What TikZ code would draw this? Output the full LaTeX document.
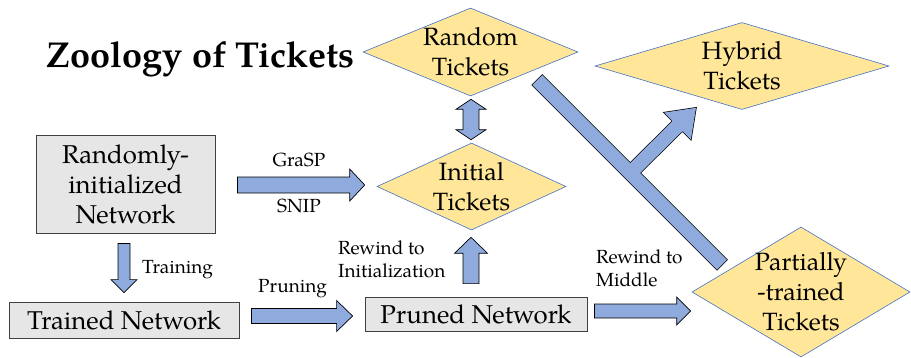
\documentclass[tikz,border=0pt]{standalone}
\usepackage{fontspec}
\setmainfont{texgyrepagella}[Extension=.otf,UprightFont=*-regular,BoldFont=*-bold]
\usetikzlibrary{shapes.geometric,calc}
\definecolor{ticketfill}{HTML}{FFE699}
\definecolor{ticketline}{HTML}{4472C4}
\definecolor{arrowfill}{HTML}{8FAADC}
\definecolor{boxfill}{HTML}{E6E6E6}
\definecolor{boxline}{HTML}{404040}
\tikzset{
  netbox/.style={draw=boxline, fill=boxfill, line width=0.8pt, inner sep=0pt, align=center, font=\fontsize{25.8}{30}\selectfont},
  ticket/.style={shape=diamond, draw=ticketline, fill=ticketfill, line width=0.6pt, inner sep=0pt},
  tickettext/.style={align=center, font=\fontsize{25}{30}\selectfont, inner sep=0pt},
  steplabel/.style={font=\fontsize{19}{23}\selectfont, inner sep=0pt, align=left},
  blockarrow/.style={draw=black, fill=arrowfill, line width=0.7pt, line join=miter},
  titletext/.style={font=\fontsize{36}{40}\selectfont\bfseries, inner sep=0pt},
}
% #1 from, #2 to, #3 shaft half width, #4 head half width, #5 head length
\newcommand\blockarr[5]{%
  \coordinate (ba-h) at ($(#2)!#5!(#1)$);
  \draw[blockarrow] ($(#1)!#3!90:(#2)$) -- ($(ba-h)!#3!90:(#2)$) -- ($(ba-h)!#4!90:(#2)$)
    -- (#2) -- ($(ba-h)!#4!-90:(#2)$) -- ($(ba-h)!#3!-90:(#2)$) -- ($(#1)!#3!-90:(#2)$) -- cycle;
}
\newcommand\dblockarr[5]{%
  \coordinate (da-h1) at ($(#1)!#5!(#2)$);
  \coordinate (da-h2) at ($(#2)!#5!(#1)$);
  \draw[blockarrow] (#1) -- ($(da-h1)!#4!90:(#2)$) -- ($(da-h1)!#3!90:(#2)$)
    -- ($(da-h2)!#3!90:(#2)$) -- ($(da-h2)!#4!90:(#2)$) -- (#2)
    -- ($(da-h2)!#4!-90:(#2)$) -- ($(da-h2)!#3!-90:(#2)$)
    -- ($(da-h1)!#3!-90:(#2)$) -- ($(da-h1)!#4!-90:(#2)$) -- cycle;
}
\begin{document}
\begin{tikzpicture}[x=1pt,y=-1pt]
\useasboundingbox (0,0) rectangle (911,357);

\node[titletext, anchor=base] (title) at (200.5,67) {Zoology of Tickets};

% networks
\node[netbox, minimum width=179pt, minimum height=98pt] (rinit) at (125.5,184) {Randomly-\\initialized\\Network};
\node[netbox, minimum width=230pt, minimum height=36pt] (trained) at (124,320) {Trained Network};
\node[netbox, minimum width=222pt, minimum height=34pt] (pruned) at (476,314) {Pruned Network};

% tickets
\node[ticket, minimum width=215pt, minimum height=88pt, label={[tickettext]center:{Random\\Tickets}}] (rand) at (470.5,52) {};
\node[ticket, minimum width=189pt, minimum height=87pt, label={[tickettext]center:{Initial\\Tickets}}] (init) at (471.5,186.5) {};
\node[ticket, minimum width=294pt, minimum height=87pt, label={[tickettext]center:{Hybrid\\Tickets}}] (hybrid) at (742,66) {};
\node[ticket, minimum width=218pt, minimum height=130pt, label={[tickettext]center:{Partially\\-trained\\Tickets}}] (partial) at (801,292) {};

% arrow end points
\coordinate (g-s) at ($(rinit.east)+(22,1)$);
\coordinate (g-e) at ($(init.west)+(-12,-1.5)$);
\coordinate (t-s) at ($(rinit.south)+(-1.5,10)$);
\coordinate (t-e) at ($(trained.north)+(0,-9)$);
\coordinate (p-s) at ($(trained.east)+(12,-4)$);
\coordinate (p-e) at ($(pruned.west)+(-12,2)$);
\coordinate (u-s) at ($(pruned.north)+(-5,-13)$);
\coordinate (u-e) at ($(init.south)+(-0.5,7)$);
\coordinate (m-s) at ($(pruned.east)+(7,-3)$);
\coordinate (m-e) at ($(partial.west)+(-1,19)$);
\coordinate (d-s) at ($(rand.south)+(0.5,3)$);
\coordinate (d-e) at ($(init.north)+(-0.5,-3)$);
\coordinate (bar-s) at ($(rand.east)+(-41,28)$);
\coordinate (bar-e) at ($(partial.north)+(-79,38)$);
\coordinate (br-s) at ($(bar-s)!0.503!(bar-e)$);
\coordinate (br-e) at ($(hybrid.south)+(-46,-2)$);
\coordinate (br-h) at ($(br-e)!26pt!(br-s)$);

\blockarr{g-s}{g-e}{8pt}{16pt}{15pt}
\blockarr{t-s}{t-e}{6pt}{13pt}{13pt}
\blockarr{p-s}{p-e}{7.5pt}{15.5pt}{16pt}
\blockarr{u-s}{u-e}{8pt}{16.5pt}{16pt}
\blockarr{m-s}{m-e}{7pt}{14pt}{14pt}
\dblockarr{d-s}{d-e}{8pt}{15pt}{10pt}

% bar with branch: outline then refill
\def\barpath{($(bar-s)!7pt!90:(bar-e)$) -- ($(bar-e)!7pt!-90:(bar-s)$) -- ($(bar-e)!7pt!90:(bar-s)$) -- ($(bar-s)!7pt!-90:(bar-e)$) -- cycle}
\def\branchpath{($(br-s)!7pt!90:(br-e)$) -- ($(br-h)!7pt!90:(br-e)$) -- ($(br-h)!19pt!90:(br-e)$) -- (br-e) -- ($(br-h)!19pt!-90:(br-e)$) -- ($(br-h)!7pt!-90:(br-e)$) -- ($(br-s)!7pt!-90:(br-e)$) -- cycle}
\draw[black, line width=1.4pt, line join=miter] \barpath;
\draw[black, line width=1.4pt, line join=miter] \branchpath;
\fill[arrowfill] \barpath;
\fill[arrowfill] \branchpath;

% labels
\node[steplabel, anchor=base] (grasp) at (299,166) {GraSP};
\node[steplabel, anchor=base] (snip) at (299,212) {SNIP};
\node[steplabel, anchor=base west] (training) at (142,273) {Training};
\node[steplabel, anchor=base west] (pruning) at (258,292) {Pruning};
\node[steplabel, anchor=west] (rwinit) at (338,259) {Rewind to\\Initialization};
\node[steplabel, anchor=west] (rwmid) at (596,268) {Rewind to\\Middle};
\end{tikzpicture}
\end{document}
